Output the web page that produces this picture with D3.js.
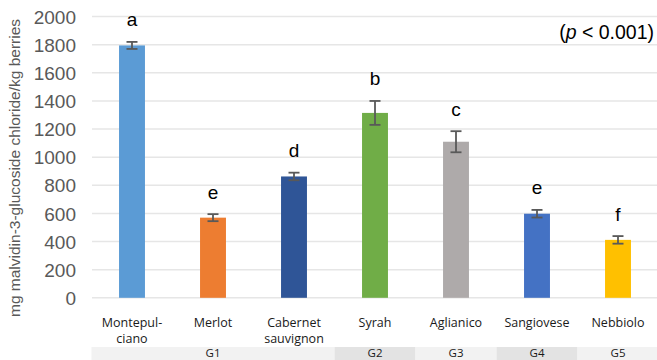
<!DOCTYPE html>
<html>
<head>
<meta charset="utf-8">
<script src="https://cdn.jsdelivr.net/npm/d3@7/dist/d3.min.js"></script>
<style>
  html, body { margin: 0; padding: 0; background: #fff; }
  svg { display: block; }
</style>
</head>
<body>
<script>
// Anthocyanin content per cultivar (mg malvidin-3-glucoside chloride / kg berries)
const cultivars = ["Montepulciano", "Merlot", "Cabernet sauvignon", "Syrah", "Aglianico", "Sangiovese", "Nebbiolo"];
const cultivarLines = [["Montepul-", "ciano"], ["Merlot"], ["Cabernet", "sauvignon"], ["Syrah"], ["Aglianico"], ["Sangiovese"], ["Nebbiolo"]];
const means = [1795, 570, 863, 1315, 1110, 598, 412];
const errors = [25, 25, 27, 85, 75, 27, 27];
const letters = ["a", "e", "d", "b", "c", "e", "f"];
const barColors = ["#5B9BD5", "#ED7D31", "#2F5597", "#70AD47", "#AEAAAA", "#4472C4", "#FFC000"];
const groups = ["G1", "G2", "G3", "G4", "G5"];
const groupSpans = [3, 1, 1, 1, 1];
const yTicks = [0, 200, 400, 600, 800, 1000, 1200, 1400, 1600, 1800, 2000];

const W = 657, H = 360;
const svg = d3.select("body").append("svg").attr("width", W).attr("height", H);

const x = d3.scaleBand().domain(cultivars).range([91.5, 658.5]).padding(0);
const y = d3.scaleLinear().domain([0, 2000]).range([297.8, 16.6]);
const barW = x.bandwidth() * 0.32;

// horizontal gridlines
svg.append("g").selectAll("line").data(yTicks).join("line")
  .attr("x1", 92).attr("x2", 657)
  .attr("y1", d => y(d)).attr("y2", d => y(d))
  .attr("stroke", "#e6e6e6").attr("stroke-width", 1.5);

// y axis labels
const yAxis = d3.axisLeft(y).tickValues(yTicks).tickFormat(d3.format("d")).tickSize(0).tickPadding(0);
const yg = svg.append("g").attr("transform", "translate(76,0)").call(yAxis);
yg.select(".domain").remove();
yg.selectAll("text")
  .attr("font-family", "Liberation Sans, Arial, sans-serif")
  .attr("font-size", 19).attr("fill", "#595959").attr("dy", "0.35em");

// y axis title
svg.append("text")
  .attr("transform", "translate(20,168) rotate(-90)")
  .attr("text-anchor", "middle")
  .attr("font-family", "Liberation Sans, Arial, sans-serif")
  .attr("font-size", 15.5).attr("fill", "#595959")
  .text("mg malvidin-3-glucoside chloride/kg berries");

// bars
svg.append("g").selectAll("rect").data(cultivars).join("rect")
  .attr("x", d => x(d) + (x.bandwidth() - barW) / 2)
  .attr("width", barW)
  .attr("y", (d, i) => y(means[i]))
  .attr("height", (d, i) => y(0) - y(means[i]))
  .attr("fill", (d, i) => barColors[i]);

// error bars
const eg = svg.append("g").attr("stroke", "#595959").attr("stroke-width", 1.8);
cultivars.forEach((c, i) => {
  const cx = x(c) + x.bandwidth() / 2;
  const top = y(means[i] + errors[i]), bot = y(means[i] - errors[i]);
  eg.append("line").attr("x1", cx).attr("x2", cx).attr("y1", top).attr("y2", bot);
  eg.append("line").attr("x1", cx - 5.5).attr("x2", cx + 5.5).attr("y1", top).attr("y2", top);
  eg.append("line").attr("x1", cx - 5.5).attr("x2", cx + 5.5).attr("y1", bot).attr("y2", bot);
});

// significance letters
svg.append("g").selectAll("text").data(cultivars).join("text")
  .attr("x", d => x(d) + x.bandwidth() / 2)
  .attr("y", (d, i) => y(means[i] + errors[i]) - 15.5)
  .attr("text-anchor", "middle")
  .attr("font-family", "Liberation Sans, Arial, sans-serif")
  .attr("font-size", 19).attr("fill", "#000")
  .text((d, i) => letters[i]);

// p-value note
const pt = svg.append("text")
  .attr("x", 654).attr("y", 39)
  .attr("text-anchor", "end")
  .attr("font-family", "Liberation Sans, Arial, sans-serif")
  .attr("font-size", 19.5).attr("fill", "#000");
pt.append("tspan").text("(");
pt.append("tspan").attr("font-style", "italic").text("p");
pt.append("tspan").text(" < 0.001)");

// category labels
const cat = svg.append("g").selectAll("text").data(cultivars).join("text")
  .attr("x", d => x(d) + x.bandwidth() / 2)
  .attr("y", 327)
  .attr("text-anchor", "middle")
  .attr("font-family", "Open Sans, Lato, sans-serif")
  .attr("font-size", 12.5).attr("fill", "#1a1a1a");
cat.each(function (d, i) {
  const t = d3.select(this);
  cultivarLines[i].forEach((ln, k) => {
    t.append("tspan").attr("x", x(d) + x.bandwidth() / 2).attr("dy", k === 0 ? 0 : 16).text(ln);
  });
});

// group band
let start = 0;
const gg = svg.append("g");
groups.forEach((g, i) => {
  const x0 = i === 0 ? 91.5 : x(cultivars[start]);
  const last = cultivars[start + groupSpans[i] - 1];
  const x1 = x(last) + x.bandwidth();
  gg.append("rect").attr("x", x0).attr("y", 347).attr("width", x1 - x0).attr("height", 14)
    .attr("fill", i % 2 === 0 ? "#f2f2f2" : "#e3e3e3");
  gg.append("text").attr("x", (x0 + x1) / 2).attr("y", 356.5)
    .attr("text-anchor", "middle")
    .attr("font-family", "Open Sans, Lato, sans-serif")
    .attr("font-size", 11.5).attr("fill", "#1a1a1a").text(g);
  start += groupSpans[i];
});
</script>
</body>
</html>
